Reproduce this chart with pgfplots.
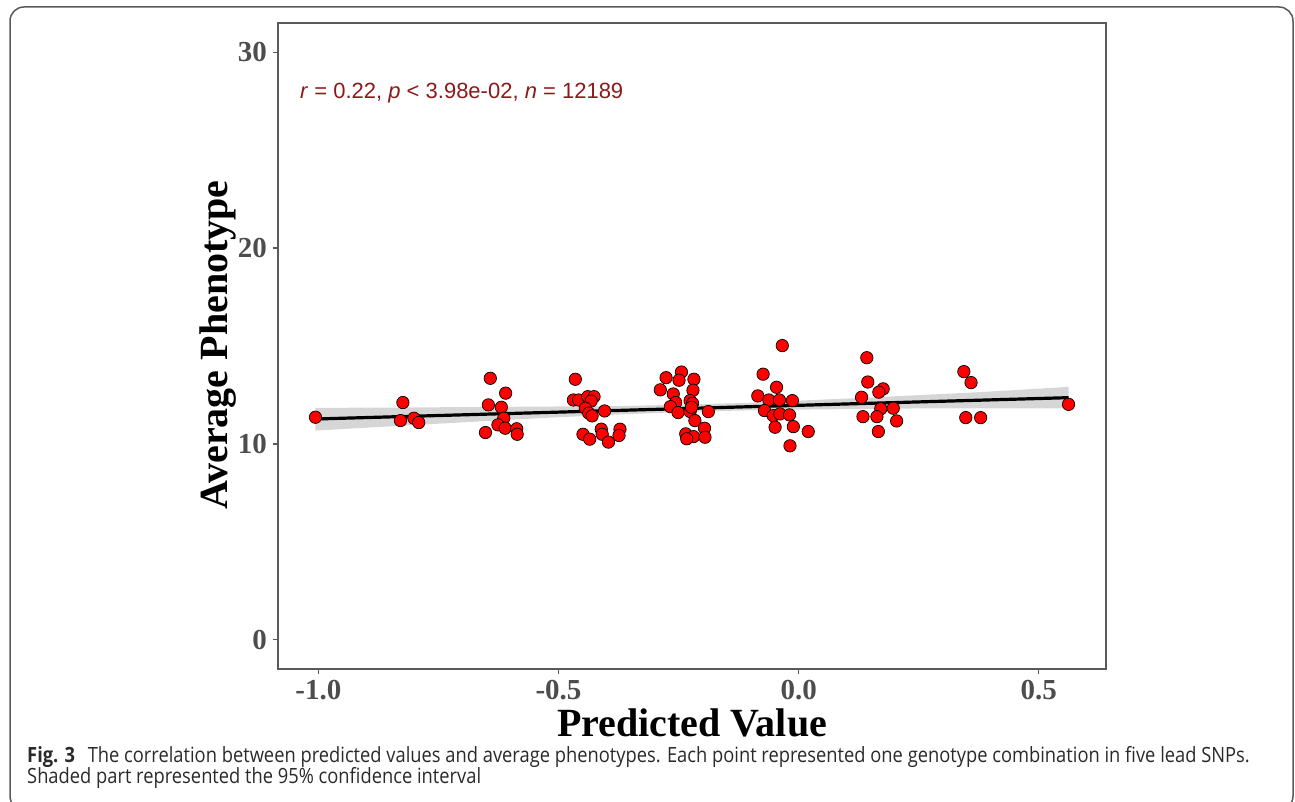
\documentclass[border=0pt]{standalone}
\usepackage{fontspec}
\setmainfont{Liberation Serif}
\newfontfamily\annfont{Liberation Sans}
\newfontfamily\capfont[FakeStretch=0.872]{Open Sans}
\usepackage{pgfplots}
\pgfplotsset{compat=1.18}

\definecolor{ticktext}{HTML}{4D4D4D}
\definecolor{panel}{HTML}{5A5A5A}
\definecolor{annred}{HTML}{8B1A1A}
\definecolor{ribbon}{HTML}{999999}
\definecolor{captext}{HTML}{2A2A2A}

\begin{document}
\begin{tikzpicture}[x=1bp,y=1bp]
\useasboundingbox (0,0) rectangle (1295,802);
\clip (0,0) rectangle (1295,802);
% figure frame
\draw[line width=1.5bp, color=panel, rounded corners=14bp] (10,795) rectangle (1293,-8);

\begin{axis}[
    at={(278bp,133bp)}, anchor=south west,
    scale only axis, width=828bp, height=646bp,
    xmin=-1.084, xmax=0.640,
    ymin=-1.5, ymax=31.5,
    xtick={-1,-0.5,0,0.5},
    xticklabels={-1.0,-0.5,0.0,0.5},
    ytick={0,10,20,30},
    yticklabels={0,10,20,30},
    tick pos=left,
    tick align=outside,
    major tick length=5.5bp,
    every tick/.style={line width=1.3bp, color=panel},
    axis line style={line width=1.5bp, color=panel},
    ticklabel style={font=\bfseries\fontsize{29bp}{34bp}\selectfont, color=ticktext},
    yticklabel style={inner sep=0pt, xshift=-5.5bp},
    xticklabel style={inner sep=0pt, yshift=-5.5bp},
]
% points first, ribbon on top with alpha like geom_smooth
\addplot[only marks, mark=*, mark size=6.2bp,
    mark options={fill=red, draw=black, line width=0.7bp}] coordinates {
(-1.006,11.36) (-0.824,12.11) (-0.829,11.19) (-0.801,11.31) (-0.791,11.09)
(-0.642,13.35) (-0.610,12.59) (-0.646,11.99) (-0.619,11.87) (-0.614,11.31)
(-0.626,10.97) (-0.611,10.80) (-0.587,10.77) (-0.586,10.49) (-0.652,10.58)
(-0.465,13.30) (-0.469,12.24) (-0.458,12.24) (-0.439,12.41) (-0.426,12.41)
(-0.432,12.19) (-0.444,11.82) (-0.437,11.57) (-0.430,11.43) (-0.404,11.68)
(-0.449,10.49) (-0.435,10.24) (-0.411,10.75) (-0.409,10.49) (-0.396,10.09)
(-0.372,10.75) (-0.374,10.43)
(-0.276,13.38) (-0.244,13.67) (-0.249,13.25) (-0.218,13.30) (-0.288,12.76)
(-0.220,12.74) (-0.261,12.55) (-0.256,12.11) (-0.226,12.21) (-0.221,12.07)
(-0.267,11.90) (-0.251,11.60) (-0.226,11.65) (-0.223,11.87) (-0.188,11.65)
(-0.216,11.19) (-0.196,10.80) (-0.235,10.51) (-0.219,10.37) (-0.233,10.26)
(-0.195,10.34)
(-0.034,15.02) (-0.074,13.56) (-0.046,12.89) (-0.085,12.45) (-0.062,12.24)
(-0.040,12.24) (-0.013,12.21) (-0.071,11.70) (-0.053,11.44) (-0.039,11.53)
(-0.019,11.48) (-0.049,10.85) (-0.011,10.88) (0.020,10.63) (-0.018,9.90)
(0.142,14.40) (0.144,13.16) (0.176,12.81) (0.167,12.64) (0.131,12.38)
(0.171,11.79) (0.197,11.82) (0.134,11.39) (0.163,11.39) (0.204,11.17)
(0.166,10.63)
(0.344,13.69) (0.359,13.13) (0.348,11.34) (0.379,11.34)
(0.562,12.02)
};
% 95% confidence band
\addplot[draw=none, fill=ribbon, fill opacity=0.4] coordinates {
(-1.006,11.84) (-0.875,11.85) (-0.75,11.87) (-0.625,11.89) (-0.5,11.91)
(-0.375,11.93) (-0.25,12.00) (-0.125,12.08) (0,12.21) (0.125,12.34)
(0.25,12.49) (0.375,12.64) (0.562,12.91)
(0.562,11.81) (0.375,11.82) (0.25,11.81) (0.125,11.78) (0,11.75)
(-0.125,11.70) (-0.25,11.62) (-0.375,11.50) (-0.5,11.36) (-0.625,11.20)
(-0.75,11.03) (-0.875,10.86) (-1.006,10.68)
} -- cycle;
% fitted line
\addplot[black, line width=3.2bp] coordinates {
(-1.006,11.27) (0.562,12.36)
};
\end{axis}

% axis titles
\node[rotate=90, anchor=base, font=\bfseries\fontsize{40bp}{46bp}\selectfont]
  at (227,457) {Average Phenotype};
\node[anchor=base, font=\bfseries\fontsize{40bp}{46bp}\selectfont]
  at (692,65) {Predicted Value};

% annotation
\node[anchor=base west, inner sep=0pt, text=annred,
  font=\annfont\fontsize{22bp}{26bp}\selectfont]
  at (300,703) {\textit{r} = 0.22, \textit{p} < 3.98e-02, \textit{n} = 12189};

% caption
\node[anchor=base west, inner sep=0pt, text=captext,
  font=\capfont\fontsize{21bp}{25bp}\selectfont]
  at (27,39) {\textbf{Fig. 3}\hspace{0.6em}The correlation between predicted values and average phenotypes. Each point represented one genotype combination in five lead SNPs.};
\node[anchor=base west, inner sep=0pt, text=captext,
  font=\capfont\fontsize{21bp}{25bp}\selectfont]
  at (27,18) {Shaded part represented the 95\% confidence interval};
\end{tikzpicture}
\end{document}
